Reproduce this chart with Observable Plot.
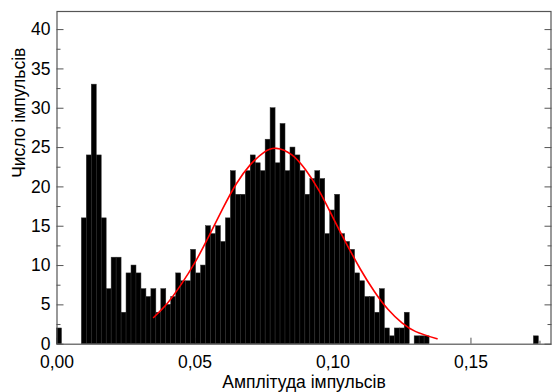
<!DOCTYPE html>
<html><head><meta charset="utf-8">
<script src="https://cdn.jsdelivr.net/npm/d3@7"></script>
<script src="https://cdn.jsdelivr.net/npm/@observablehq/plot@0.6"></script>
<style>body{margin:0;background:#fff;} #chart{width:552px;height:392px;}</style>
</head><body><div id="chart"></div>
<script>
// Histogram: bin width and counts per bin (bin i covers [i*binWidth, (i+1)*binWidth))
const binWidth = 0.0018;
const counts = [
  2, 0, 0, 0, 0,
  16, 24, 33, 24, 16, 7, 11, 11, 4, 9,
  10, 9, 7, 6, 7, 4, 7, 5, 6, 9,
  8, 8, 12, 9, 10, 15, 14, 15, 13, 16,
  22, 19, 19, 22, 24, 23, 22, 26, 30, 23,
  28, 22, 25, 24, 22, 19, 21, 22, 21, 14,
  17, 19, 14, 13, 12, 9, 8, 6, 6, 4,
  7, 2, 1, 2, 2, 4, 0, 1, 1, 1,
  0, 0, 0, 0, 0, 0, 0, 0, 0, 0, 0, 0, 0, 0, 0, 0, 0, 0, 0, 0, 0,
  1
];
// Gaussian fit curve
const fitX = [0.035, 0.040, 0.045, 0.050, 0.055, 0.060, 0.065, 0.070, 0.075, 0.0795, 0.085, 0.090, 0.095, 0.100, 0.105, 0.110, 0.115, 0.120, 0.125, 0.130, 0.1377];
const fitY = [3.4, 5.2, 7.6, 10.4, 13.7, 17.2, 20.4, 22.8, 24.4, 24.9, 24.1, 22.2, 19.5, 16.1, 12.7, 9.5, 6.7, 4.4, 2.7, 1.6, 0.7];
// Axis ticks and labels
const xMajor = [0, 0.05, 0.10, 0.15];
const xMinor = [0.025, 0.075, 0.125, 0.175];
const yMajor = [0, 5, 10, 15, 20, 25, 30, 35, 40];
const yMinor = [2.5, 7.5, 12.5, 17.5, 22.5, 27.5, 32.5, 37.5];
const xTitle = "Амплітуда імпульсів";
const yTitle = "Число імпульсів";

const bins = counts.map((c, i) => ({x1: i * binWidth, x2: (i + 1) * binWidth, y: c})).filter(d => d.y > 0);
const fit = fitX.map((x, i) => ({x, y: fitY[i]}));
const axisColor = "#555";
const fmtX = d => d.toFixed(2).replace(".", ",");

const chart = Plot.plot({
  width: 552,
  height: 392,
  marginLeft: 56.5,
  marginRight: 1.5,
  marginTop: 11,
  marginBottom: 48.3,
  style: {fontFamily: "'Liberation Sans', Arial, sans-serif", background: "#fff", color: "#000"},
  x: {domain: [0, 0.179]},
  y: {domain: [0, 42.3]},
  marks: [
    Plot.axisY(yMajor, {anchor: "left", tickSize: -7, text: null, label: null, stroke: axisColor}),
    Plot.axisY(yMinor, {anchor: "left", tickSize: -4, text: null, label: null, stroke: axisColor}),
    Plot.axisY(yMajor, {anchor: "right", tickSize: -7, text: null, label: null, stroke: axisColor}),
    Plot.axisY(yMinor, {anchor: "right", tickSize: -4, text: null, label: null, stroke: axisColor}),
    Plot.axisX(xMajor, {anchor: "bottom", tickSize: -6, text: null, label: null, stroke: axisColor}),
    Plot.axisX(xMinor, {anchor: "bottom", tickSize: -3, text: null, label: null, stroke: axisColor}),
    Plot.rectY(bins, {x1: "x1", x2: "x2", y: "y", fill: "#000", stroke: "#2e2e2e", strokeWidth: 0.5}),
    Plot.line(fit, {x: "x", y: "y", stroke: "#ff0000", strokeWidth: 1.6, curve: "natural"}),
    Plot.frame({stroke: axisColor, strokeWidth: 1.2}),
    Plot.axisY(yMajor, {anchor: "left", tickSize: 0, tickPadding: 6.5, label: null, fontSize: 17.5, fill: "#000"}),
    Plot.axisX(xMajor, {anchor: "bottom", tickSize: 0, tickPadding: 11.5, label: null, fontSize: 17.5, fill: "#000", tickFormat: fmtX}),
    Plot.text([xTitle], {frameAnchor: "bottom", dy: 38, lineAnchor: "middle", fontSize: 17.5, fill: "#000"}),
    Plot.text([yTitle], {frameAnchor: "left", dx: -38, rotate: -90, lineAnchor: "middle", fontSize: 17.5, fill: "#000"})
  ]
});
document.getElementById("chart").appendChild(chart);
</script>
</body></html>
